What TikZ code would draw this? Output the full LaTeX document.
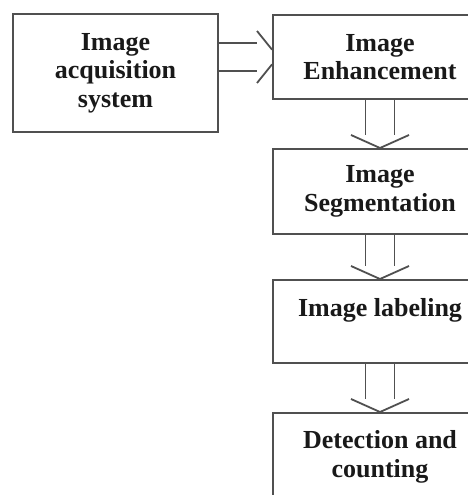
\documentclass[tikz,border=0pt]{standalone}
\usepackage{fontspec}
\setmainfont{Liberation Serif}
\usetikzlibrary{calc}
\definecolor{linegray}{HTML}{505050}
\tikzset{
  box/.style={draw=linegray, line width=2pt, fill=white, align=center,
    inner sep=0pt, font=\bfseries\fontsize{26}{28.5}\selectfont, text=black!90},
  conn/.style={draw=linegray, line width=1.8pt, line join=miter}
}
\begin{document}
\begin{tikzpicture}[x=1pt,y=-1pt]
\useasboundingbox (0,0) rectangle (468,495);
\clip (0,0) rectangle (468,495);
\fill[white] (0,0) rectangle (468,495);
\node[box, minimum width=205pt, minimum height=118pt] (acq) at (115.5,73) {Image\\acquisition\\system};
\node[box, minimum width=214pt, minimum height=84pt] (enh) at (380,57) {Image\\Enhancement};
\node[box, minimum width=214pt, minimum height=85pt] (seg) at (380,191.5) {Image\\Segmentation};
\node[box, minimum width=214pt, minimum height=83pt] (lab) at (380,321.5) {Image labeling\\\mbox{}};
\node[box, minimum width=214pt, minimum height=88pt] (det) at (380,457) {Detection and\\counting};
% horizontal hollow arrow acq -> enh
\draw[conn] ($(acq.east |- enh.west)+(0,-14)$) -- ($(enh.west)+(-15,-14)$);
\draw[conn] ($(acq.east |- enh.west)+(0,14)$) -- ($(enh.west)+(-15,14)$);
\draw[conn] ($(enh.west)+(-15,-26)$) -- ($(enh.west)+(0,-7.4)$);
\draw[conn] ($(enh.west)+(-15,26)$) -- ($(enh.west)+(0,7.4)$);
% vertical hollow arrows
\foreach \a/\b in {enh/seg, seg/lab, lab/det}{
  \draw[conn] ($(\a.south)+(-14.5,0)$) -- ($(\b.north)+(-14.5,-13)$);
  \draw[conn] ($(\a.south)+(14.5,0)$) -- ($(\b.north)+(14.5,-13)$);
  \draw[conn] ($(\b.north)+(-29,-13)$) -- (\b.north) -- ($(\b.north)+(29,-13)$);
}
\end{tikzpicture}
\end{document}
